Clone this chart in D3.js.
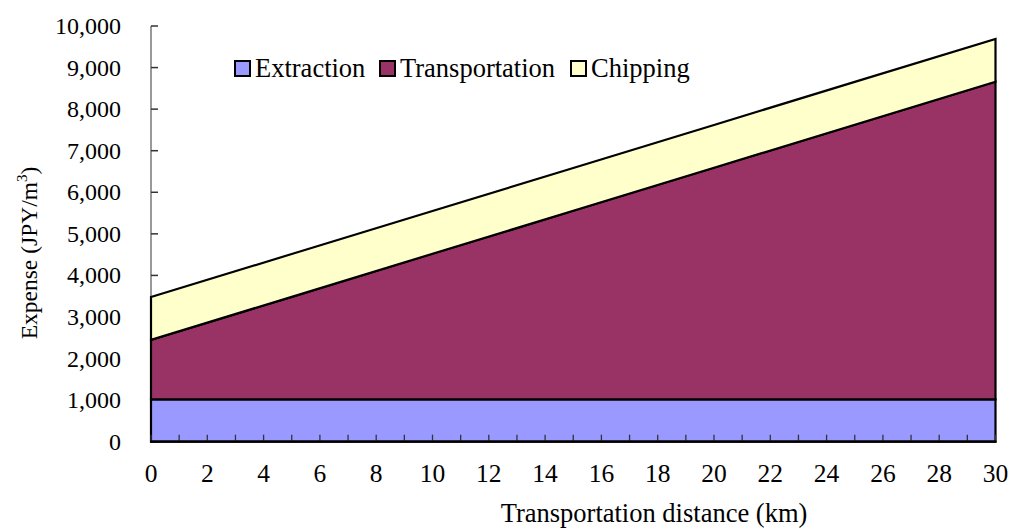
<!DOCTYPE html>
<html>
<head>
<meta charset="utf-8">
<script src="https://cdn.jsdelivr.net/npm/d3@7"></script>
<style>
  body { margin: 0; background: #fff; }
  svg text { font-family: "Liberation Serif", "Times New Roman", serif; fill: #000; }
</style>
</head>
<body>
<svg id="chart" width="1011" height="530"></svg>
<script>
// Cost components along transportation distance (JPY per cubic metre)
const distance = [0, 5, 10, 15, 20, 25, 30];
const extraction = [1020, 1020, 1020, 1020, 1020, 1020, 1020];
const transportation = [1430, 2465, 3500, 4535, 5570, 6605, 7640];
const chipping = [1030, 1030, 1030, 1030, 1030, 1030, 1030];

const seriesNames = ["Extraction", "Transportation", "Chipping"];
const seriesColors = ["#9999FF", "#993366", "#FFFFCC"];
const yTicks = [0, 1000, 2000, 3000, 4000, 5000, 6000, 7000, 8000, 9000, 10000];
const xLabelTicks = [0, 2, 4, 6, 8, 10, 12, 14, 16, 18, 20, 22, 24, 26, 28, 30];
const xMinorTicks = d3.range(0, 31, 1);

const svg = d3.select("#chart");
const plotLeft = 151, plotRight = 995.5, plotTop = 26, plotBottom = 441.7;

const x = d3.scaleLinear().domain([0, 30]).range([plotLeft, plotRight]);
const y = d3.scaleLinear().domain([0, 10000]).range([plotBottom, plotTop]);

const rows = distance.map((d, i) => ({
  distance: d,
  Extraction: extraction[i],
  Transportation: transportation[i],
  Chipping: chipping[i]
}));
const stacked = d3.stack().keys(seriesNames)(rows);

const area = d3.area()
  .x(d => x(d.data.distance))
  .y0(d => y(d[0]))
  .y1(d => y(d[1]));

// Y axis line (gray) with inward ticks
const yAxis = svg.append("g");
yAxis.append("line")
  .attr("x1", x(0)).attr("x2", x(0))
  .attr("y1", y(10000)).attr("y2", y(0))
  .attr("stroke", "#777").attr("stroke-width", 1.5);
yAxis.selectAll("line.tick").data(yTicks).join("line")
  .attr("class", "tick")
  .attr("x1", x(0)).attr("x2", x(0) + 7)
  .attr("y1", d => y(d)).attr("y2", d => y(d))
  .attr("stroke", "#333").attr("stroke-width", 1.5);

// Stacked areas
svg.append("g").selectAll("path").data(stacked).join("path")
  .attr("d", area)
  .attr("fill", (d, i) => seriesColors[i])
  .attr("stroke", "#000")
  .attr("stroke-width", 2.2)
  .attr("stroke-linejoin", "miter");

// X axis ticks (inward, every km) and baseline
svg.append("g").selectAll("line").data(xMinorTicks).join("line")
  .attr("x1", d => x(d)).attr("x2", d => x(d))
  .attr("y1", y(0)).attr("y2", y(0) - 7)
  .attr("stroke", "#333").attr("stroke-width", 1.3);
svg.append("line")
  .attr("x1", x(0) - 1).attr("x2", x(30) + 1)
  .attr("y1", y(0)).attr("y2", y(0))
  .attr("stroke", "#000").attr("stroke-width", 2.2);

// Tick labels
const fmt = d3.format(",");
svg.append("g").selectAll("text").data(yTicks).join("text")
  .attr("x", 121).attr("y", d => y(d) + 8)
  .attr("text-anchor", "end")
  .attr("font-size", 24)
  .text(d => fmt(d));

svg.append("g").selectAll("text").data(xLabelTicks).join("text")
  .attr("x", d => x(d)).attr("y", 482)
  .attr("text-anchor", "middle")
  .attr("font-size", 25.5)
  .text(d => d);

// Axis titles
svg.append("text")
  .attr("x", 654).attr("y", 522)
  .attr("text-anchor", "middle")
  .attr("font-size", 26.5)
  .text("Transportation distance (km)");

const yTitle = svg.append("text")
  .attr("transform", "translate(37,253) rotate(-90)")
  .attr("text-anchor", "middle")
  .attr("font-size", 23.5);
yTitle.append("tspan").text("Expense (JPY/m");
yTitle.append("tspan").attr("font-size", 15).attr("dy", -10).text("3");
yTitle.append("tspan").attr("dy", 10).text(")");

// Legend
const legendX = [235, 380, 571];
const legend = svg.append("g").selectAll("g").data(seriesNames).join("g")
  .attr("transform", (d, i) => `translate(${legendX[i]},61)`);
legend.append("rect")
  .attr("width", 15).attr("height", 15)
  .attr("fill", (d, i) => seriesColors[i])
  .attr("stroke", "#000").attr("stroke-width", 2);
legend.append("text")
  .attr("x", 20).attr("y", 15.5)
  .attr("font-size", 26.5)
  .text(d => d);
</script>
</body>
</html>
